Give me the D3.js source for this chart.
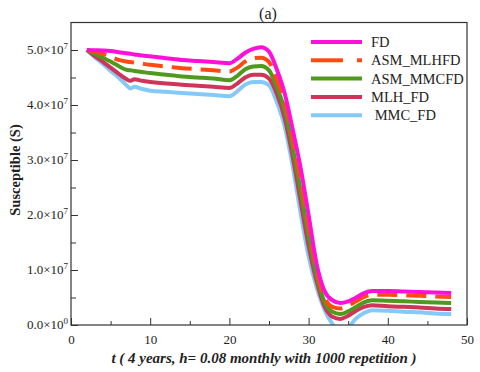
<!DOCTYPE html>
<html>
<head>
<meta charset="utf-8">
<script src="https://cdn.jsdelivr.net/npm/d3@7"></script>
<style>
  body { margin: 0; background: #fff; }
  text { font-family: "Liberation Serif", "DejaVu Serif", serif; }
</style>
</head>
<body>
<svg id="chart" width="480" height="372"></svg>
<script>
// time points (t)
var tVals = [2,3,4,5,6,7,7.5,8,9,10,12,14,16,18,20,21,22,23,24,25,26,27,28,29,30,31,32,33,34,35,36,37,38,40,42,44,46,48];

// values in units of 1e7
var fdVals = [5.00,4.995,4.99,4.98,4.96,4.94,4.93,4.92,4.90,4.885,4.85,4.82,4.80,4.78,4.76,4.84,4.95,5.02,5.05,4.97,4.64,4.20,3.55,2.85,2.00,1.12,0.62,0.45,0.40,0.43,0.50,0.58,0.62,0.62,0.61,0.60,0.59,0.58];
var asmMlhVals = [5.00,4.97,4.93,4.88,4.82,4.79,4.78,4.77,4.75,4.73,4.70,4.67,4.65,4.63,4.61,4.68,4.79,4.85,4.86,4.78,4.45,4.05,3.38,2.65,1.81,1.01,0.50,0.33,0.30,0.35,0.43,0.51,0.55,0.55,0.54,0.53,0.52,0.51];
var asmMmcVals = [5.00,4.93,4.86,4.79,4.71,4.64,4.63,4.62,4.60,4.58,4.55,4.52,4.50,4.48,4.45,4.53,4.65,4.70,4.71,4.63,4.32,3.90,3.22,2.44,1.62,0.90,0.42,0.24,0.20,0.25,0.33,0.41,0.45,0.44,0.43,0.42,0.41,0.40];
var mlhVals = [5.00,4.89,4.79,4.68,4.57,4.47,4.44,4.47,4.44,4.42,4.39,4.37,4.35,4.33,4.31,4.39,4.50,4.55,4.55,4.48,4.20,3.75,3.05,2.24,1.44,0.80,0.34,0.15,0.11,0.17,0.26,0.33,0.36,0.34,0.33,0.32,0.30,0.29];
var mmcVals = [5.00,4.87,4.75,4.62,4.50,4.36,4.30,4.33,4.29,4.26,4.24,4.22,4.20,4.18,4.16,4.25,4.37,4.42,4.42,4.36,4.05,3.60,2.88,2.03,1.25,0.69,0.28,0.02,-0.12,-0.05,0.12,0.22,0.27,0.26,0.24,0.23,0.21,0.20];

var seriesNames = ["FD", "ASM_MLHFD", "ASM_MMCFD", "MLH_FD", " MMC_FD"];
var seriesColors = ["#ff10d8", "#ff4a12", "#4e9a1c", "#d03458", "#84caf8"];
var xTicks = [0,10,20,30,40,50];
var yTicks = [0,1,2,3,4,5];

var series = [
  {name: seriesNames[0], values: fdVals, color: seriesColors[0], dash: null},
  {name: seriesNames[1], values: asmMlhVals, color: seriesColors[1], dash: "20 9"},
  {name: seriesNames[2], values: asmMmcVals, color: seriesColors[2], dash: null},
  {name: seriesNames[3], values: mlhVals, color: seriesColors[3], dash: null},
  {name: seriesNames[4], values: mmcVals, color: seriesColors[4], dash: null}
];

var svg = d3.select('#chart');
var pLeft = 71, pRight = 467, pTop = 22.5, pBottom = 325;

var x = d3.scaleLinear().domain([0, 50]).range([pLeft, pRight]);
var y = d3.scaleLinear().domain([0, 5.5]).range([pBottom, pTop]);

svg.append('clipPath').attr('id', 'plotclip')
  .append('rect')
  .attr('x', pLeft).attr('y', pTop)
  .attr('width', pRight - pLeft).attr('height', pBottom - pTop);

// lines (drawn bottom first so FD sits on top)
var line = d3.line()
  .x(function(d){ return x(d[0]); })
  .y(function(d){ return y(d[1]); })
  .curve(d3.curveMonotoneX);

var lineG = svg.append('g').attr('clip-path', 'url(#plotclip)');
series.slice().reverse().forEach(function(s){
  lineG.append('path')
    .datum(tVals.map(function(t, i){ return [t, s.values[i]]; }))
    .attr('d', line)
    .style('fill', 'none')
    .style('stroke', s.color)
    .style('stroke-width', 4)
    .style('stroke-dasharray', s.dash)
    .style('stroke-linejoin', 'round');
});

// frame
svg.append('rect')
  .attr('x', pLeft).attr('y', pTop)
  .attr('width', pRight - pLeft).attr('height', pBottom - pTop)
  .style('fill', 'none').style('stroke', '#333').style('stroke-width', 1.2);

// x axis, ticks inward
var xAxis = d3.axisBottom(x).tickValues(xTicks).tickSize(-7).tickPadding(10).tickFormat(d3.format('d'));
var xg = svg.append('g').attr('transform', 'translate(0,' + pBottom + ')').call(xAxis);
xg.select('.domain').remove();
xg.selectAll('.tick line').style('stroke', '#333');
xg.selectAll('text').style('font-size', '13px').style('fill', '#222').style('font-family', '"Liberation Serif", serif');

var xMinor = d3.axisBottom(x).tickValues([5,15,25,35,45]).tickSize(-4).tickFormat('');
var xm = svg.append('g').attr('transform', 'translate(0,' + pBottom + ')').call(xMinor);
xm.select('.domain').remove();
xm.selectAll('.tick line').style('stroke', '#333');

// y axis, ticks inward
var yAxis = d3.axisLeft(y).tickValues(yTicks).tickSize(-7).tickPadding(5).tickFormat('');
var yg = svg.append('g').attr('transform', 'translate(' + pLeft + ',0)').call(yAxis);
yg.select('.domain').remove();
yg.selectAll('.tick line').style('stroke', '#333');

var yMinor = d3.axisLeft(y).tickValues([0.5,1.5,2.5,3.5,4.5]).tickSize(-5).tickFormat('');
var ym = svg.append('g').attr('transform', 'translate(' + pLeft + ',0)').call(yMinor);
ym.select('.domain').remove();
ym.selectAll('.tick line').style('stroke', '#333');

// y tick labels like 5.0×10^7
yTicks.forEach(function(v){
  var t = svg.append('text')
    .attr('x', pLeft - 3)
    .attr('y', y(v) + 4)
    .attr('text-anchor', 'end')
    .style('font-size', '13px')
    .style('fill', '#222');
  t.append('tspan').text(v.toFixed(1) + '\u00d710');
  t.append('tspan').attr('dy', -5).style('font-size', '9px').text(v === 0 ? '0' : '7');
});

// title
svg.append('text')
  .attr('x', 268).attr('y', 19)
  .attr('text-anchor', 'middle')
  .style('font-size', '16px').style('fill', '#222')
  .text('(a)');

// axis titles
svg.append('text')
  .attr('transform', 'translate(20,170) rotate(-90)')
  .attr('text-anchor', 'middle')
  .style('font-size', '14.5px').style('font-weight', 'bold').style('fill', '#222')
  .text('Susceptible (S)');

svg.append('text')
  .attr('x', 264).attr('y', 363)
  .attr('text-anchor', 'middle')
  .style('font-size', '15px').style('font-weight', 'bold').style('font-style', 'italic').style('fill', '#222')
  .text('t ( 4 years, h= 0.08 monthly with 1000 repetition )');

// legend
var legend = svg.append('g');
series.forEach(function(s, i){
  var ly = 42 + i * 18.3;
  if (s.dash) {
    legend.append('line')
      .attr('x1', 311).attr('x2', 343).attr('y1', ly).attr('y2', ly)
      .style('stroke', s.color).style('stroke-width', 4);
    legend.append('line')
      .attr('x1', 357).attr('x2', 362).attr('y1', ly).attr('y2', ly)
      .style('stroke', s.color).style('stroke-width', 4);
  } else {
    legend.append('line')
      .attr('x1', 311).attr('x2', 362).attr('y1', ly).attr('y2', ly)
      .style('stroke', s.color).style('stroke-width', 4);
  }
  legend.append('text')
    .attr('x', 371).attr('y', ly + 5)
    .style('font-size', '14.5px').style('fill', '#222')
    .style('white-space', 'pre')
    .attr('xml:space', 'preserve')
    .text(s.name);
});
</script>
</body>
</html>
